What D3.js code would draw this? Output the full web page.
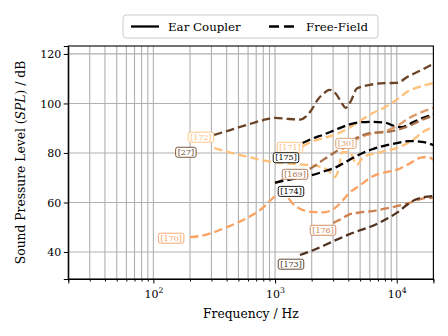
<!DOCTYPE html>
<html><head><meta charset="utf-8">
<script src="https://cdn.jsdelivr.net/npm/d3@7"></script>
<style>body{margin:0;background:#fff}svg{display:block}text{font-family:"DejaVu Serif",serif}</style>
</head><body><svg id="c" width="448" height="336"></svg>
<script>
// ---- data ----
const seriesNames = ["[27]","[172]","[171]","[175]","[30]","[169]","[174]","[170]","[176]","[173]"];
const seriesColors = ["#6b4428","#ffc07a","#ffc07a","#000000","#dd9a68","#a8704a","#000000","#fba262","#cf8152","#50321f"];

const f27 = [315,400,500,630,800,1000,1250,1600,1800,2000,2240,2500,2800,3150,3550,3800,4200,4700,6000,8000,10000,12500,16000,20000];
const v27 = [87.3,88.8,90.3,91.8,93.3,94.2,93.8,93.5,94.8,97.5,101.5,104,105.5,104,100,98.2,101,106,107.5,108.2,108.3,111,113.5,116];

const f172 = [315,400,500,630,800,1000,1250,1600,2000,2500,2800,3100,3350,3550,4100,4700,5300,6900,10000,13600,16400,20000];
const v172 = [82,80.5,79.3,78.2,77,76.2,75.8,75.4,75,74,72.5,70.3,74,80.3,80.3,75.3,78.3,80,82,85.3,88.5,90.5];

const f171 = [1680,2000,2500,3150,4000,5000,6300,8000,10000,12500,16000,20000];
const v171 = [82.6,84.5,86,87.5,90,93,96,98.5,101.5,105,107,108.3];

const f175 = [1680,2000,2500,3150,4000,5000,6300,8000,10000,11000,12500,16000,20000];
const v175 = [84,85.7,87.4,89.4,91.4,92.4,92.6,92.2,90.6,90.4,91.5,94,95.5];

const f30 = [3550,4000,5000,6300,8000,10000,12500,16000,20000];
const v30 = [81.5,83.5,86.3,87.8,88.8,90.8,94,96.5,98.2];

const f169 = [1000,1250,1600,2000,2500,3150,4000,5000,6300,8000,10000,12500,16000,20000];
const v169 = [67.8,69.8,72,74,77.3,80.5,84,86.8,88.2,88.4,89.3,90.8,93.3,95];

const f174 = [1000,1250,1600,2000,2500,3150,4000,5000,6300,8000,10000,12500,16000,20000];
const v174 = [68,69,70,71,72.5,74.2,77,79.5,81.5,83,84,84.8,84.5,83.2];

const f170 = [200,250,315,400,500,630,800,900,1000,1120,1250,1400,1600,2000,2500,3150,3550,4000,5000,6300,8000,10000,12500,16000,18000,20000];
const v170 = [46,46.6,48,50,52,54.5,58,60.5,62.5,63.8,62.5,59.5,57.5,56.2,56,58,60.5,63.5,67,70.5,72.2,73.2,75.5,78.2,78.4,77.2];

const f176 = [3000,3550,4000,5000,6300,8000,10000,12500,16000,20000];
const v176 = [51.7,53.5,55,56,56.5,57.5,58.5,59.8,61.5,62];

const f173 = [1600,2000,2500,3150,4000,5000,6300,8000,10000,12500,14000,16000,20000];
const v173 = [38.8,40.5,42.5,44.8,47,48.8,50.5,53,55.8,59.5,61,62,62.6];

const seriesFreq = [f27,f172,f171,f175,f30,f169,f174,f170,f176,f173];
const seriesSpl  = [v27,v172,v171,v175,v30,v169,v174,v170,v176,v173];

// label anchor (data units)
const labelFreq = [185,246,1326,1230,3826,1458,1352,140,2477,1352];
const labelSpl  = [80.4,86.5,82.4,78.2,84.0,71.5,64.6,45.7,48.9,35.2];

const xMajorTicks = [100,1000,10000];
const xMajorExp = ["2","3","4"];
const yTicks = [40,60,80,100,120];
const legendNames = ["Ear Coupler","Free-Field"];

// ---- chart ----
const svg = d3.select("#c");
const L=68.3,R=433.4,T=46,B=279;
const x = d3.scaleLog().domain([20,20000]).range([L,R]);
const y = d3.scaleLinear().domain([29.1,123.2]).range([B,T]);

const minor=[];
[10,100,1000,10000].forEach(d=>{for(let k=2;k<=9;k++){const v=d*k; if(v>=20&&v<=20000) minor.push(v);}});
const allX = minor.concat(xMajorTicks);

const grid = svg.append("g");
grid.selectAll("line.vx").data(allX).join("line")
  .attr("x1",d=>x(d)).attr("x2",d=>x(d)).attr("y1",T).attr("y2",B)
  .attr("stroke","#b0b0b0").attr("stroke-width",1.1);
grid.selectAll("line.hy").data(yTicks).join("line")
  .attr("x1",L).attr("x2",R).attr("y1",d=>y(d)).attr("y2",d=>y(d))
  .attr("stroke","#b0b0b0").attr("stroke-width",1.1);

// curves
const line = d3.line().x(d=>x(d[0])).y(d=>y(d[1])).curve(d3.curveMonotoneX);
const curves = svg.append("g");
seriesNames.forEach((n,i)=>{
  const pts = seriesFreq[i].map((f,j)=>[f,seriesSpl[i][j]]);
  curves.append("path").attr("d",line(pts)).attr("fill","none")
    .attr("stroke",seriesColors[i]).attr("stroke-width",2.3)
    .attr("stroke-dasharray","8.5,4");
});

// axes
const xAxis = d3.axisBottom(x).tickValues(xMajorTicks).tickSize(4.5).tickFormat("");
const gx = svg.append("g").attr("transform",`translate(0,${B})`).call(xAxis);
const xMinorAxis = d3.axisBottom(x).tickValues(minor).tickSize(2.5).tickFormat("");
svg.append("g").attr("transform",`translate(0,${B})`).call(xMinorAxis).select(".domain").remove();
gx.selectAll(".tick").each(function(d,i){
  const t=d3.select(this).append("text").attr("y",19).attr("fill","#000")
    .attr("text-anchor","middle").style("font-size","11px").text("10");
  t.append("tspan").attr("dy",-5).style("font-size","7.8px").text(xMajorExp[i]);
});
const gy = svg.append("g").attr("transform",`translate(${L},0)`)
  .call(d3.axisLeft(y).tickValues(yTicks).tickSize(4.5).tickFormat(d3.format("d")));
gy.selectAll("text").style("font-size","11px").attr("x",-7).attr("dy","0.35em");
svg.selectAll(".domain").attr("stroke","#000");
svg.selectAll(".tick line").attr("stroke","#000");

// frame
svg.append("rect").attr("x",L).attr("y",T).attr("width",R-L).attr("height",B-T)
  .attr("fill","none").attr("stroke","#000").attr("stroke-width",1.1);

// labels
const lab = svg.append("g");
seriesNames.forEach((n,i)=>{
  const g = lab.append("g").attr("transform",`translate(${x(labelFreq[i])},${y(labelSpl[i])})`);
  const t = g.append("text").attr("text-anchor","middle").attr("dy","0.35em")
    .attr("fill",seriesColors[i]).style("font-size","8px").text(n);
  const bb = t.node().getBBox();
  g.insert("rect","text").attr("x",bb.x-2).attr("y",bb.y-0.5).attr("width",bb.width+4).attr("height",bb.height+1)
    .attr("rx",2).attr("fill","#fff").attr("stroke",seriesColors[i]).attr("stroke-width",0.9);
});

// axis titles
svg.append("text").attr("x",(L+R)/2).attr("y",318).attr("text-anchor","middle")
  .style("font-size","12.3px").text("Frequency / Hz");
const yl = svg.append("text").attr("transform",`translate(25,${(T+B)/2}) rotate(-90)`)
  .attr("text-anchor","middle").style("font-size","12.3px");
yl.append("tspan").text("Sound Pressure Level (");
yl.append("tspan").style("font-style","italic").text("SPL");
yl.append("tspan").text(") / dB");

// legend
const lg = svg.append("g");
lg.append("rect").attr("x",123).attr("y",15).attr("width",255).attr("height",23).attr("rx",3)
  .attr("fill","#fff").attr("stroke","#cccccc").attr("stroke-width",1);
const legX = [131,269];
legendNames.forEach((n,i)=>{
  lg.append("line").attr("x1",legX[i]).attr("x2",legX[i]+28).attr("y1",26.5).attr("y2",26.5)
    .attr("stroke","#000").attr("stroke-width",2.3).attr("stroke-dasharray",i?"10,5":null);
  lg.append("text").attr("x",legX[i]+37).attr("y",30.8).style("font-size","11.8px").text(n);
});
</script></body></html>
